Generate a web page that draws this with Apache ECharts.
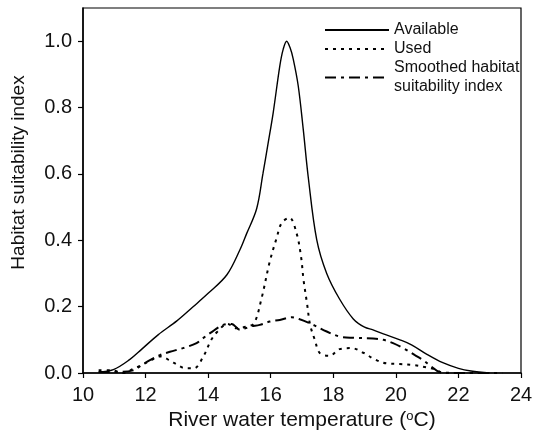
<!DOCTYPE html>
<html>
<head>
<meta charset="utf-8">
<script src="https://cdn.jsdelivr.net/npm/echarts@6/dist/echarts.min.js"></script>
<style>
html,body{margin:0;padding:0;background:#fff;}
#chart{width:535px;height:436px;}
</style>
</head>
<body>
<div id="chart"></div>
<script>
// Available
var availT = [10.5, 10.97, 11.5, 11.88, 12.4, 13.0, 13.5, 14.0, 14.6, 15.02, 15.23, 15.55, 15.75, 15.92, 16.08, 16.29, 16.4, 16.51, 16.62, 16.72, 16.88, 17.04, 17.2, 17.47, 17.79, 18.2, 18.64, 19.0, 19.27, 19.6, 20.13, 20.5, 20.98, 21.5, 22.0, 22.4, 23.0];
var availY = [0.003, 0.01, 0.041, 0.072, 0.115, 0.157, 0.198, 0.24, 0.296, 0.372, 0.42, 0.495, 0.6, 0.694, 0.785, 0.925, 0.976, 1.0, 0.98, 0.946, 0.865, 0.734, 0.59, 0.402, 0.30, 0.223, 0.163, 0.138, 0.13, 0.118, 0.1, 0.085, 0.057, 0.031, 0.014, 0.006, 0.0];
// Used
var usedT = [10.5, 10.9, 11.3, 11.6, 11.9, 12.2, 12.46, 12.89, 13.3, 13.55, 13.84, 14.1, 14.3, 14.62, 14.9, 15.23, 15.47, 15.71, 15.97, 16.19, 16.35, 16.6, 16.83, 16.97, 17.05, 17.16, 17.26, 17.41, 17.57, 17.89, 18.2, 18.58, 18.96, 19.33, 19.7, 20.13, 20.55, 20.98, 21.3, 21.5, 22.5, 23.4];
var usedY = [0.008, 0.008, 0.0, 0.012, 0.025, 0.04, 0.05, 0.031, 0.014, 0.014, 0.049, 0.1, 0.125, 0.148, 0.135, 0.14, 0.15, 0.226, 0.336, 0.407, 0.452, 0.468, 0.42, 0.35, 0.28, 0.21, 0.145, 0.1, 0.06, 0.052, 0.072, 0.075, 0.061, 0.041, 0.029, 0.027, 0.024, 0.017, 0.009, 0.0, 0.0, 0.0];
// Smoothed habitat suitability index
var hsiT = [10.5, 11.0, 11.6, 11.88, 12.14, 12.46, 12.78, 13.2, 13.63, 13.84, 14.06, 14.48, 14.75, 15.02, 15.34, 15.65, 15.97, 16.29, 16.67, 16.93, 17.36, 17.79, 18.2, 18.64, 19.27, 19.6, 19.91, 20.29, 20.61, 20.87, 21.14, 21.4, 22.0, 23.4];
var hsiY = [0.003, 0.003, 0.008, 0.024, 0.039, 0.054, 0.064, 0.075, 0.09, 0.105, 0.12, 0.145, 0.148, 0.13, 0.14, 0.145, 0.155, 0.16, 0.168, 0.162, 0.145, 0.125, 0.11, 0.106, 0.104, 0.1, 0.09, 0.072, 0.054, 0.039, 0.019, 0.003, 0.0, 0.0];

var seriesNames = ['Available', 'Used', 'Smoothed habitat\nsuitability index'];

function pairs(xs, ys) { return xs.map(function (x, i) { return [x, ys[i]]; }); }

var chart = echarts.init(document.getElementById('chart'));
var FONT = 'Liberation Sans, Arial, Helvetica, sans-serif';
chart.setOption({
  backgroundColor: '#fff',
  animation: false,
  textStyle: { fontFamily: FONT },
  grid: { left: 83, right: 14, top: 8, bottom: 63, containLabel: false, outerBoundsMode: 'none',
          show: true, borderColor: '#000', borderWidth: 1.2, backgroundColor: 'transparent' },
  legend: {
    orient: 'vertical', left: 319, top: 15.5, itemWidth: 64, itemHeight: 12, itemGap: 0,
    data: seriesNames,
    itemStyle: { color: 'transparent', borderWidth: 0, opacity: 0 },
    textStyle: { fontSize: 16, color: '#111', lineHeight: 19, fontFamily: FONT },
    selectedMode: false
  },
  xAxis: {
    type: 'value', min: 10, max: 24, interval: 2,
    name: 'River water temperature ({sup|o}C)', nameLocation: 'middle', nameGap: 37,
    nameTextStyle: { fontSize: 21, color: '#111', fontFamily: FONT,
      rich: { sup: { fontSize: 13, verticalAlign: 'top', lineHeight: 13, color: '#111', fontFamily: FONT } } },
    axisLine: { lineStyle: { color: '#000', width: 1.5 } },
    axisTick: { show: true, length: 5, lineStyle: { color: '#000', width: 1.2 } },
    axisLabel: { fontSize: 20, color: '#111', margin: 12 },
    splitLine: { show: false }
  },
  yAxis: {
    type: 'value', min: 0, max: 1.1, interval: 0.2,
    name: 'Habitat suitability index', nameLocation: 'middle', nameGap: 55,
    nameTextStyle: { fontSize: 19, color: '#111', fontFamily: FONT, padding: [0, 0, 0, 36] },
    axisLine: { show: true, lineStyle: { color: '#000', width: 1.5 } },
    axisTick: { show: true, length: 5, lineStyle: { color: '#000', width: 1.2 } },
    axisLabel: { fontSize: 20, color: '#111', margin: 11, showMaxLabel: false,
      formatter: function (v) { return v > 1.05 ? '' : v.toFixed(1); } },
    splitLine: { show: false }
  },
  series: [
    { name: seriesNames[0], type: 'line', data: pairs(availT, availY), smooth: 0.35, symbol: 'none',
      lineStyle: { color: '#000', width: 1.4, type: 'solid' }, itemStyle: { color: '#000' } },
    { name: seriesNames[1], type: 'line', data: pairs(usedT, usedY), smooth: 0.35, symbol: 'none',
      lineStyle: { color: '#000', width: 2, type: [3, 5] }, itemStyle: { color: '#000' } },
    { name: seriesNames[2], type: 'line', data: pairs(hsiT, hsiY), smooth: 0.35, symbol: 'none',
      lineStyle: { color: '#000', width: 2, type: [11, 5, 3, 5] }, itemStyle: { color: '#000' } }
  ]
});
</script>
</body>
</html>
